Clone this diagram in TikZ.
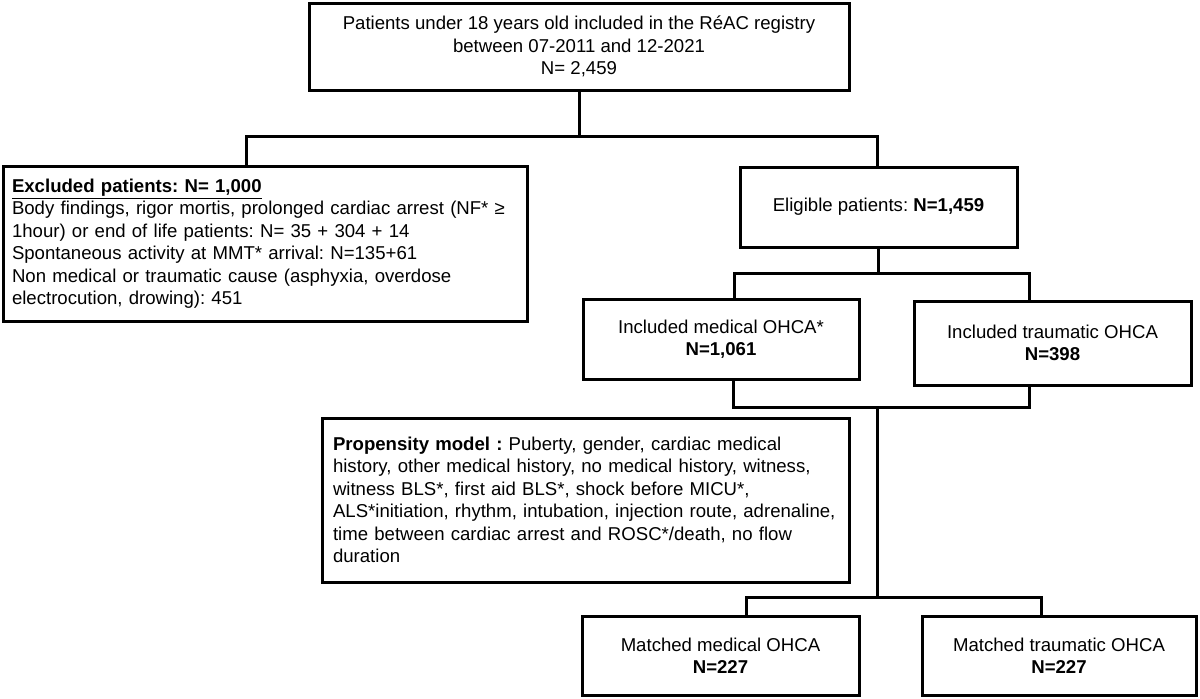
\documentclass[tikz,border=0pt]{standalone}
\usepackage{fontspec}
\setmainfont{Liberation Sans}
\frenchspacing
\usetikzlibrary{calc}

\begin{document}
\begin{tikzpicture}[
        x=0.5pt, y=-0.5pt,
        flow box/.style={draw, line width=1.5pt, inner ysep=2pt},
        link line/.style={line width=1.5pt},
        every node/.style={color=black, font=\fontsize{9.3}{11.25}\selectfont}
    ]
    \useasboundingbox[fill=white] (0,0) rectangle (1200,698);

    \node[flow box, minimum width=270pt, minimum height=43.5pt, align=center] (reg) at (579,46.5)
        {Patients under 18 years old included in the RéAC registry\\between 07-2011 and 12-2021\\N= 2,459};

    \node[flow box, minimum height=77.5pt, text width=253pt, inner xsep=4.5pt, align=left] (excl) at (265,243.5)
        {\underline{\textbf{Excluded patients: N= 1,000}}\\
         Body findings, rigor mortis, prolonged cardiac arrest (NF* ≥\\
         1hour) or end of life patients: N= 35 + 304 + 14\\
         Spontaneous activity at MMT* arrival: N=135+61\\
         Non medical or traumatic cause (asphyxia, overdose\\
         electrocution, drowing): 451};

    \node[flow box, minimum width=138.5pt, minimum height=40pt, align=center] (elig) at (878.5,207)
        {Eligible patients: \textbf{N=1,459}};

    \node[flow box, minimum width=138pt, minimum height=40pt, align=center] (med) at (721,339)
        {Included medical OHCA*\\\textbf{N=1,061}};
    \node[flow box, minimum width=138.5pt, minimum height=42pt, align=center] (trau) at (1052.5,343)
        {Included traumatic OHCA\\\textbf{N=398}};

    \node[flow box, minimum height=82pt, text width=252.5pt, inner xsep=5.5pt, align=left] (prop) at (585.5,500)
        {\textbf{Propensity model :} Puberty, gender, cardiac medical\\
         history, other medical history, no medical history, witness,\\
         witness BLS*, first aid BLS*, shock before MICU*,\\
         ALS*initiation, rhythm, intubation, injection route, adrenaline,\\
         time between cardiac arrest and ROSC*/death, no flow\\
         duration};

    \node[flow box, minimum width=138.5pt, minimum height=39.5pt, align=center] (mmed) at (720.5,655.5)
        {Matched medical OHCA\\\textbf{N=227}};
    \node[flow box, minimum width=137pt, minimum height=39.5pt, align=center] (mtrau) at (1059,655.5)
        {Matched traumatic OHCA\\\textbf{N=227}};

    %% split below the registry
    \coordinate (hl) at (246,136);
    \coordinate (hr) at (877,136);
    \draw[link line] (reg.south) -- (reg.south |- hl);
    \draw[link line] (excl.north -| hl) -- (hl) -- (hr) -- (hr |- elig.north);

    %% medical / traumatic
    \coordinate (il) at (734,273);
    \coordinate (ir) at (1029,273);
    \draw[link line] (elig.south) -- (elig.south |- il);
    \draw[link line] (med.north -| il) -- (il) -- (ir) -- (trau.north -| ir);

    %% matching
    \coordinate (jl) at (733,407);
    \coordinate (jr) at (1029,407);
    \coordinate (jm) at (877,407);
    \draw[link line] (med.south -| jl) -- (jl) -- (jr) -- (trau.south -| jr);
    \coordinate (kl) at (746,597);
    \coordinate (kr) at (1041,597);
    \draw[link line] (jm) -- (jm |- kl);
    \draw[link line] (mmed.north -| kl) -- (kl) -- (kr) -- (mtrau.north -| kr);

\end{tikzpicture}
\end{document}
